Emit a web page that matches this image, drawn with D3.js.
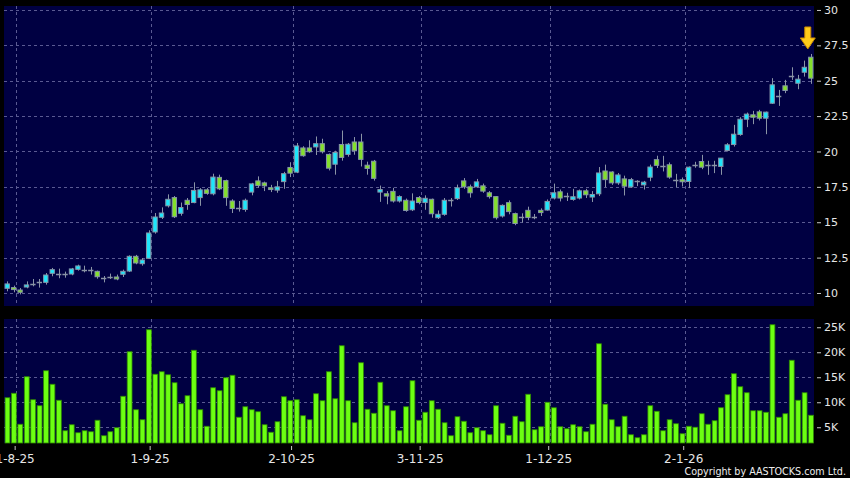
<!DOCTYPE html>
<html><head><meta charset="utf-8">
<script src="https://cdn.jsdelivr.net/npm/d3@7"></script>
<style>html,body{margin:0;padding:0;background:#000;}svg{display:block;}</style>
</head><body><svg id="c" width="850" height="478"></svg>
<script>
const dates = ["31-7-25","1-8-25","4-8-25","5-8-25","6-8-25","7-8-25","8-8-25","11-8-25","12-8-25","13-8-25","14-8-25","15-8-25","18-8-25","19-8-25","20-8-25","21-8-25","22-8-25","25-8-25","26-8-25","27-8-25","28-8-25","29-8-25",
"1-9-25","2-9-25","3-9-25","4-9-25","5-9-25","8-9-25","9-9-25","10-9-25","11-9-25","12-9-25","15-9-25","16-9-25","17-9-25","18-9-25","19-9-25","22-9-25","23-9-25","24-9-25","25-9-25","26-9-25","29-9-25","30-9-25",
"2-10-25","3-10-25","6-10-25","8-10-25","9-10-25","10-10-25","13-10-25","14-10-25","15-10-25","16-10-25","17-10-25","20-10-25","21-10-25","22-10-25","23-10-25","24-10-25","27-10-25","28-10-25","30-10-25","31-10-25",
"3-11-25","4-11-25","5-11-25","6-11-25","7-11-25","10-11-25","11-11-25","12-11-25","13-11-25","14-11-25","17-11-25","18-11-25","19-11-25","20-11-25","21-11-25","24-11-25","25-11-25","26-11-25","27-11-25","28-11-25",
"1-12-25","2-12-25","3-12-25","4-12-25","5-12-25","8-12-25","9-12-25","10-12-25","11-12-25","12-12-25","15-12-25","16-12-25","17-12-25","18-12-25","19-12-25","22-12-25","23-12-25","24-12-25","29-12-25","30-12-25","31-12-25",
"2-1-26","5-1-26","6-1-26","7-1-26","8-1-26","9-1-26","12-1-26","13-1-26","14-1-26","15-1-26","16-1-26","19-1-26","20-1-26","21-1-26","22-1-26","23-1-26","26-1-26","27-1-26","28-1-26","29-1-26","30-1-26"];

const open  = [10.33,10.38,10.21,10.42,10.66,10.75,10.75,11.39,11.32,11.32,11.34,11.67,11.65,11.60,11.53,11.08,11.13,11.13,11.32,11.55,12.59,12.07,
12.45,14.31,15.35,16.16,16.74,15.63,16.55,16.39,16.74,17.29,17.01,18.17,17.94,16.50,16.00,15.90,17.13,17.92,17.78,17.43,17.27,17.87,
18.87,18.54,20.25,20.25,20.32,20.55,19.79,19.10,20.49,19.79,20.67,20.67,19.03,19.31,17.13,17.01,17.18,16.50,16.55,15.88,
16.74,16.39,16.62,15.32,15.56,16.57,16.67,17.92,17.50,17.50,17.57,17.08,16.81,15.44,16.38,15.61,15.37,15.84,15.37,15.84,
15.86,16.71,17.15,16.85,16.61,16.71,17.22,16.78,17.01,18.62,18.55,17.78,18.06,17.50,17.90,17.64,18.18,19.42,18.99,19.06,18.00,
18.00,17.88,19.06,19.29,19.04,19.04,18.94,20.07,20.49,21.20,22.28,22.59,22.80,22.35,23.41,23.95,24.64,25.36,24.82,25.60,26.66];
const high  = [10.82,10.52,10.35,10.82,10.99,10.99,11.41,11.77,11.72,11.51,11.77,12.00,11.93,11.84,11.58,11.20,11.37,11.30,11.65,12.66,12.69,12.47,
14.43,15.65,16.05,16.97,16.85,16.39,16.71,17.82,17.41,17.41,18.43,18.36,18.01,16.62,16.50,16.67,17.78,18.24,17.87,17.64,17.92,18.56,
19.24,20.60,20.37,20.79,21.06,20.90,19.86,20.05,21.48,20.60,21.02,21.25,19.28,19.40,17.59,17.20,17.43,16.90,16.67,17.04,
16.85,16.90,16.67,15.83,16.71,16.71,17.66,18.12,17.66,18.06,17.73,17.20,16.85,16.26,16.54,15.68,15.63,16.10,15.58,15.98,
16.61,17.73,17.31,17.08,17.36,17.31,17.36,17.20,18.90,19.07,18.60,18.48,18.29,18.13,17.97,17.92,19.07,19.70,19.69,19.22,18.42,
18.16,18.94,19.27,19.76,19.34,19.34,19.53,20.59,21.88,22.42,22.75,22.87,22.94,22.82,25.18,24.35,25.06,25.95,25.41,26.42,26.89];
const low   = [10.12,10.05,9.90,10.33,10.47,10.38,10.59,11.18,11.04,11.08,11.25,11.58,11.46,11.30,11.01,10.75,10.99,10.90,11.13,11.48,12.03,11.93,
12.40,14.19,15.23,16.04,15.30,15.46,15.88,16.34,16.16,16.94,16.90,17.27,16.16,15.65,15.75,15.74,16.90,17.43,17.20,17.13,17.08,17.36,
18.19,18.47,19.63,19.91,19.75,19.86,18.66,18.36,19.35,19.63,19.77,18.94,18.36,17.94,16.44,16.27,16.39,16.39,15.74,15.79,
16.27,15.88,15.32,15.23,15.46,16.11,16.57,17.36,16.74,17.43,17.08,16.67,15.19,15.33,15.56,14.79,14.98,15.14,15.21,15.44,
15.82,16.61,16.47,16.50,16.52,16.61,16.71,16.43,16.85,17.48,17.64,17.64,16.89,17.43,17.55,17.31,17.90,18.83,18.59,18.07,17.48,
17.53,17.41,18.85,18.75,18.35,18.47,18.35,20.00,20.35,21.11,21.72,21.93,22.19,21.22,23.36,23.22,24.12,25.06,24.40,25.29,24.78];
const close = [10.64,10.24,10.05,10.57,10.66,10.75,11.27,11.65,11.32,11.32,11.70,11.91,11.65,11.60,11.15,11.08,11.13,10.99,11.53,12.59,12.12,12.33,
14.24,15.37,15.65,16.62,15.39,16.04,16.25,17.25,17.29,17.04,18.19,17.36,16.74,15.97,16.00,16.55,17.71,17.59,17.57,17.31,17.50,18.43,
18.47,20.39,19.70,19.98,20.55,19.98,18.82,19.93,19.58,20.51,20.05,19.44,18.80,18.10,17.31,16.85,16.50,16.81,15.83,16.50,
16.39,16.69,15.60,15.56,16.55,16.57,17.43,17.50,17.08,17.85,17.20,16.81,15.32,16.19,15.75,14.91,15.37,15.33,15.37,15.68,
16.47,17.08,16.71,16.85,16.80,17.22,16.94,16.96,18.48,18.01,17.78,18.34,17.55,18.01,17.90,17.83,18.90,19.02,18.99,18.19,18.00,
17.86,18.89,19.06,18.89,19.04,19.04,19.53,20.47,21.22,22.28,22.64,22.42,22.35,22.78,24.71,23.95,24.31,25.36,25.11,25.95,25.18];
// volume, thousands of shares
const volume = [10.9,11.8,5.6,15.1,10.5,9.3,16.3,13.6,10.4,4.3,5.5,3.9,4.3,4.1,6.4,3.3,4.1,4.9,11.2,20.1,8.5,6.5,
24.5,15.6,16.1,15.5,13.9,9.7,11.3,20.4,8.5,5.2,12.9,12.3,14.9,15.4,7.0,9.1,8.5,8.1,5.5,4.0,6.1,11.1,
10.3,10.5,7.3,6.5,11.7,10.3,16.1,10.7,21.3,10.3,5.9,17.9,8.6,7.8,14.0,9.3,8.3,4.3,9.1,14.3,
6.4,8.0,10.3,8.6,5.9,3.3,7.1,6.2,3.9,4.9,4.3,3.5,9.3,5.8,3.4,7.2,6.1,11.6,4.5,5.1,
10.0,8.9,5.1,4.7,5.5,5.1,4.1,5.6,21.7,9.6,6.5,5.1,7.2,3.5,2.9,3.5,9.3,8.2,4.3,6.5,5.7,
3.7,5.2,5.0,7.7,5.6,6.3,8.9,11.5,15.7,13.1,11.9,8.3,8.3,8.0,25.5,7.0,7.7,18.4,10.4,11.9,7.4];
const priceTicks = [10,12.5,15,17.5,20,22.5,25,27.5,30];
const volumeTicks = [5,10,15,20,25];
const dateTicks = ["1-8-25","1-9-25","2-10-25","3-11-25","1-12-25","2-1-26"];

const svg = d3.select("#c");
const L = 4, R = 814, pT = 6, pB = 306, vT = 319, vB = 443;
const font = "'DejaVu Sans', Verdana, sans-serif";

const x = d3.scaleBand().domain(dates).range([L, R]).paddingInner(0.17).paddingOuter(0.085);
const step = x.step();
const y = d3.scaleLinear().domain([9.08, 30.28]).range([pB, pT]);
const yv = d3.scaleLinear().domain([1.85, 26.65]).range([vB, vT]);

svg.append("rect").attr("width", 850).attr("height", 478).attr("fill", "#000");
svg.append("rect").attr("x", L).attr("y", pT).attr("width", R - L).attr("height", pB - pT).attr("fill", "#000042");
svg.append("rect").attr("x", L).attr("y", vT).attr("width", R - L).attr("height", vB - vT).attr("fill", "#000042");

const gridColor = "#5a5a92";
const gx = d => x(d) + x.bandwidth() + (step - x.bandwidth()) / 2 - 0.5;
// grid
const grid = svg.append("g").attr("stroke", gridColor).attr("stroke-width", 1).attr("stroke-dasharray", "3,3");
grid.selectAll(".hp").data(priceTicks).join("line")
  .attr("x1", L).attr("x2", R).attr("y1", d => Math.round(y(d)) + 0.5).attr("y2", d => Math.round(y(d)) + 0.5);
grid.selectAll(".hv").data(volumeTicks).join("line").attr("class", "hv")
  .attr("x1", L).attr("x2", R).attr("y1", d => Math.round(yv(d)) + 0.5).attr("y2", d => Math.round(yv(d)) + 0.5);
grid.selectAll(".vp").data(dateTicks).join("line").attr("class", "vp")
  .attr("x1", d => Math.round(gx(d)) + 0.5).attr("x2", d => Math.round(gx(d)) + 0.5).attr("y1", pT).attr("y2", pB);
grid.selectAll(".vv").data(dateTicks).join("line").attr("class", "vv")
  .attr("x1", d => Math.round(gx(d)) + 0.5).attr("x2", d => Math.round(gx(d)) + 0.5).attr("y1", vT).attr("y2", vB);

// candles
const rows = dates.map((d, i) => ({d, o: open[i], h: high[i], l: low[i], c: close[i], v: volume[i]}));
const cyan = "#1ee6fb", green = "#84e02c", wick = "#8a94a6";
const cg = svg.append("g");
cg.selectAll(".w").data(rows).join("line")
  .attr("x1", r => Math.round(x(r.d) + x.bandwidth() / 2) + 0.5)
  .attr("x2", r => Math.round(x(r.d) + x.bandwidth() / 2) + 0.5)
  .attr("y1", r => y(r.h)).attr("y2", r => y(r.l))
  .attr("stroke", wick).attr("stroke-width", 1);
cg.selectAll(".b").data(rows.filter(r => r.o !== r.c)).join("rect")
  .attr("x", r => x(r.d) + 0.5).attr("width", x.bandwidth() - 1)
  .attr("y", r => y(Math.max(r.o, r.c))).attr("height", r => Math.max(1, Math.abs(y(r.o) - y(r.c))))
  .attr("fill", r => r.c > r.o ? cyan : green)
  .attr("stroke", "#8595a8").attr("stroke-width", 1);
cg.selectAll(".dj").data(rows.filter(r => r.o === r.c)).join("line")
  .attr("x1", r => x(r.d)).attr("x2", r => x(r.d) + x.bandwidth())
  .attr("y1", r => Math.round(y(r.c)) + 0.5).attr("y2", r => Math.round(y(r.c)) + 0.5)
  .attr("stroke", wick).attr("stroke-width", 1.5);

// volume bars
svg.append("g").selectAll("rect").data(rows).join("rect")
  .attr("x", r => x(r.d) + 0.5).attr("width", x.bandwidth() - 0.5)
  .attr("y", r => yv(r.v)).attr("height", r => vB - yv(r.v))
  .attr("fill", "#6cff12").attr("stroke", "#2e8a00").attr("stroke-width", 0.8);

// arrow above last candle
const last = rows[rows.length - 1];
const ax = x(last.d) + x.bandwidth() / 2 - 3, at = y(last.h) - 5;
svg.append("path")
  .attr("d", `M${ax},${at} L${ax - 7.5},${at - 11} L${ax - 3},${at - 11} L${ax - 3},${at - 22} L${ax + 3},${at - 22} L${ax + 3},${at - 11} L${ax + 7.5},${at - 11} Z`)
  .attr("fill", "#ffcc1a").attr("stroke", "#c98a00").attr("stroke-width", 1);

// axes
const axisStyle = g => {
  g.select(".domain").remove();
  g.selectAll(".tick line").attr("stroke", "#c8c8c8");
  g.selectAll(".tick text").attr("fill", "#e6e6e6").attr("font-family", font);
};
svg.append("g").attr("transform", `translate(${R + 3},0)`)
  .call(d3.axisRight(y).tickValues(priceTicks).tickSize(4).tickPadding(3).tickFormat(d => d % 1 ? d.toFixed(1) : d))
  .call(axisStyle).selectAll("text").attr("font-size", 11);
svg.append("g").attr("transform", `translate(${R + 3},0)`)
  .call(d3.axisRight(yv).tickValues(volumeTicks).tickSize(4).tickPadding(3).tickFormat(d => d + "K"))
  .call(axisStyle).selectAll("text").attr("font-size", 11);
const xa = svg.append("g").attr("transform", `translate(1.5,${vB + 3})`)
  .call(d3.axisBottom(x).tickValues(dateTicks).tickSize(4).tickPadding(4))
  .call(axisStyle);
xa.selectAll("text").attr("font-size", 12);

svg.append("text").attr("x", 846).attr("y", 475).attr("text-anchor", "end")
  .attr("font-family", font).attr("font-size", 9.6).attr("fill", "#eeeeee")
  .text("Copyright by AASTOCKS.com Ltd.");
</script></body></html>
